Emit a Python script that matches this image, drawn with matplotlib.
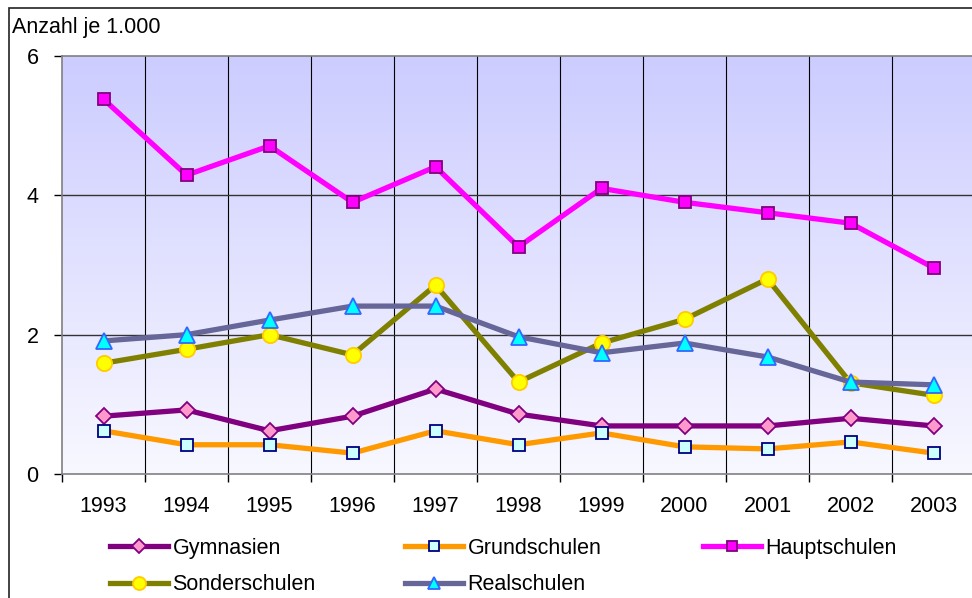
import numpy as np
import matplotlib
matplotlib.use("Agg")
import matplotlib.pyplot as plt
from matplotlib.patches import Rectangle

plt.rcParams['font.family'] = ['Liberation Sans', 'DejaVu Sans']

# data
years = ['1993', '1994', '1995', '1996', '1997', '1998', '1999', '2000', '2001', '2002', '2003']
gymnasien = [0.83, 0.92, 0.62, 0.83, 1.22, 0.86, 0.69, 0.69, 0.69, 0.80, 0.69]
grundschulen = [0.62, 0.42, 0.42, 0.30, 0.62, 0.42, 0.59, 0.39, 0.36, 0.46, 0.30]
hauptschulen = [5.38, 4.29, 4.71, 3.90, 4.41, 3.26, 4.10, 3.90, 3.75, 3.60, 2.96]
sonderschulen = [1.59, 1.79, 2.00, 1.71, 2.71, 1.32, 1.88, 2.22, 2.80, 1.31, 1.13]
realschulen = [1.91, 2.00, 2.21, 2.41, 2.41, 1.97, 1.74, 1.88, 1.68, 1.32, 1.28]
yticks = [0, 2, 4, 6]

FS = 15.5
W, H = 972, 598
fig = plt.figure(figsize=(W / 100, H / 100), dpi=100)
ax = fig.add_axes([62 / W, 1 - 474 / H, 913 / W, 418 / H])

x = np.arange(len(years))

# gradient background
grad = np.linspace(0, 1, 256).reshape(-1, 1)
top = np.array([204, 204, 255]) / 255
bot = np.array([248, 248, 255]) / 255
img = top[None, None, :] * (1 - grad[:, :, None]) + bot[None, None, :] * grad[:, :, None]
ax.imshow(img, extent=[-0.5, len(years) - 0.5, 0, 6], aspect='auto', zorder=0)

# grid
for b in np.arange(0.5, len(years) - 1, 1):
    ax.axvline(b, color='black', lw=0.8, zorder=1)
for yv in [2, 4]:
    ax.axhline(yv, color='#333333', lw=1.0, zorder=1)

series = [
    ('Gymnasien', gymnasien, '#800080', 'D', '#FF99CC', '#800080', 8.5),
    ('Grundschulen', grundschulen, '#FF9900', 's', '#CCFFFF', '#000080', 9),
    ('Hauptschulen', hauptschulen, '#FF00FF', 's', '#FF00FF', '#800080', 9),
    ('Sonderschulen', sonderschulen, '#808000', 'o', '#FFFF00', '#FFCC00', 11),
    ('Realschulen', realschulen, '#666699', '^', '#00FFFF', '#3366FF', 11),
]
handles = {}
for name, vals, col, mk, fc, ec, ms in series:
    ln, = ax.plot(x, vals, color=col, lw=3.8, marker=mk, markersize=ms,
                  markerfacecolor=fc, markeredgecolor=ec, markeredgewidth=1.3,
                  zorder=3, label=name)
    handles[name] = ln

ax.set_xlim(-0.5, len(years) - 0.5)
ax.set_ylim(0, 6)
ax.set_yticks(yticks)
ax.set_yticklabels([str(v) for v in yticks], fontsize=FS)
ax.set_xticks(x)
ax.set_xticklabels(years, fontsize=FS)
ax.set_xticks(np.arange(-0.5, len(years), 1), minor=True)
ax.tick_params(axis='x', which='major', length=0, pad=16)
ax.tick_params(axis='x', which='minor', length=6, width=1, color='black', direction='out')
ax.tick_params(axis='y', length=6, width=1, color='black', direction='out', pad=11)

for s in ['left', 'top', 'bottom']:
    ax.spines[s].set_color('#808080')
    ax.spines[s].set_linewidth(1.2)
ax.spines['right'].set_visible(False)

fig.text(12 / W, 1 - 28 / H, 'Anzahl je 1.000', fontsize=FS, ha='left', va='center')

# outer frame
fig.patches.append(Rectangle((8.5 / W, -0.1), 1.2, 1.1 - 8.5 / H, transform=fig.transFigure,
                             fill=False, edgecolor='#222222', lw=1.2, zorder=10))

# legend, three columns placed like the original
cols = [(110, ['Gymnasien', 'Sonderschulen']),
        (405, ['Grundschulen', 'Realschulen']),
        (703, ['Hauptschulen'])]
for xpos, names in cols:
    fig.legend([handles[n] for n in names], names, loc='upper left',
               bbox_to_anchor=(xpos / W, 1 - 538 / H), frameon=False,
               fontsize=FS, handlelength=2.7, handletextpad=0.2,
               labelspacing=0.72, borderpad=0, borderaxespad=0, markerscale=0.85)

fig.savefig('out.png', dpi=100)
